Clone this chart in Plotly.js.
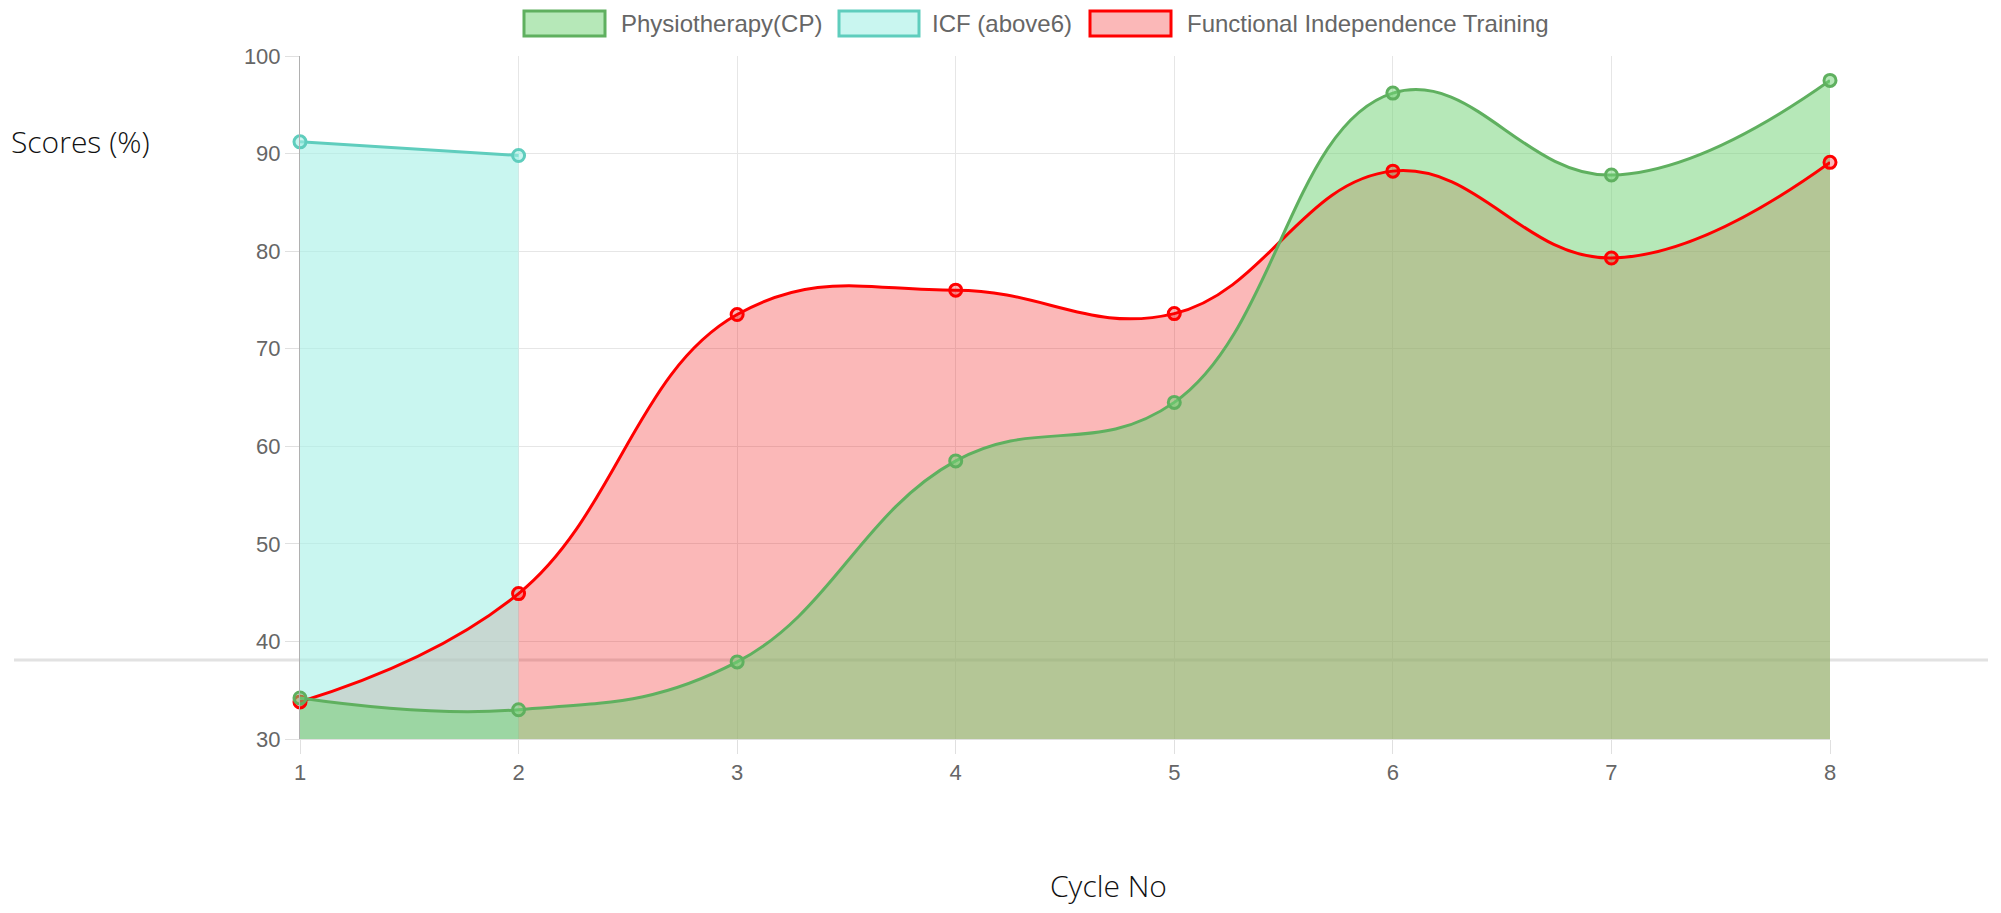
<!DOCTYPE html>
<html>
<head>
<meta charset="utf-8">
<script src="https://cdn.plot.ly/plotly-3.0.1.min.js"></script>
<style>
  html, body { margin: 0; padding: 0; background: #ffffff; }
  #chart { width: 2001px; height: 913px; }
</style>
</head>
<body>
<div id="chart"></div>
<script>
// ---- data ----
const cycles = [1, 2, 3, 4, 5, 6, 7, 8];
const physio = [34.2, 33.0, 37.9, 58.5, 64.5, 96.2, 87.8, 97.5];
const icf = [91.2, 89.8, null, null, null, null, null, null];
const fit = [33.8, 44.9, 73.5, 76.0, 73.6, 88.2, 79.3, 89.1];
const seriesNames = ['Physiotherapy(CP)', 'ICF (above6)', 'Functional Independence Training'];
const xTitle = 'Cycle No';
const yTitle = 'Scores (%)';

// ---- styles ----
const W = 2001, H = 913;
const M = { l: 300, r: 171, t: 56, b: 174 };
const plotW = W - M.l - M.r, plotH = H - M.t - M.b;
const px = v => (v - M.l) / plotW;        // pixel x -> paper x
const py = v => (H - M.b - v) / plotH;    // pixel y -> paper y

const style = {
  physio: { line: '#5fb05f', fill: 'rgba(117,211,121,0.53)' },
  icf:    { line: '#5fcdbd', fill: 'rgba(162,240,229,0.58)' },
  fit:    { line: '#ff0000', fill: 'rgba(240,0,0,0.28)' }
};
const SMOOTH = 1.2;

function fillTrace(y, name, st) {
  return {
    x: cycles, y: y, name: name, type: 'scatter', mode: 'none',
    fill: 'tozeroy', fillcolor: st.fill,
    line: { color: st.line, width: 0, shape: 'spline', smoothing: SMOOTH },
    showlegend: false, hoverinfo: 'skip'
  };
}
function lineTrace(y, name, st) {
  return {
    x: cycles, y: y, name: name, type: 'scatter', mode: 'lines+markers',
    line: { color: st.line, width: 3, shape: 'spline', smoothing: SMOOTH },
    marker: { size: 12, color: st.fill, line: { color: st.line, width: 3 } },
    cliponaxis: false, showlegend: false, hoverinfo: 'x+y+name'
  };
}

// Chart.js: all fills first (last dataset at the bottom), then lines
const traces = [
  fillTrace(fit, seriesNames[2], style.fit),
  fillTrace(icf, seriesNames[1], style.icf),
  fillTrace(physio, seriesNames[0], style.physio),
  lineTrace(fit, seriesNames[2], style.fit),
  lineTrace(icf, seriesNames[1], style.icf),
  lineTrace(physio, seriesNames[0], style.physio)
];

const tickFont = { family: 'Liberation Sans, Arial, sans-serif', size: 22, color: '#666666' };
const legendFont = { family: 'Liberation Sans, Arial, sans-serif', size: 24, color: '#666666' };
const titleFont = { family: 'Open Sans, sans-serif', size: 30, color: '#111111', weight: 300 };

// custom Chart.js-like legend
const legendItems = [
  { name: seriesNames[0], st: style.physio, bx0: 524, bx1: 605, tx: 619 },
  { name: seriesNames[1], st: style.icf, bx0: 839, bx1: 919, tx: 930 },
  { name: seriesNames[2], st: style.fit, bx0: 1090, bx1: 1171, tx: 1185 }
];

const shapes = [
  { type: 'line', xref: 'paper', yref: 'paper', x0: px(14), x1: px(1988), y0: py(660), y1: py(660),
    line: { color: '#e2e2e2', width: 3 }, layer: 'below' }
];
const annotations = [
  { text: yTitle, xref: 'paper', yref: 'paper', x: px(9), y: py(142), xanchor: 'left', yanchor: 'middle',
    showarrow: false, font: titleFont },
  { text: xTitle, xref: 'paper', yref: 'paper', x: px(1108), y: py(885), xanchor: 'center', yanchor: 'middle',
    showarrow: false, font: titleFont }
];
legendItems.forEach(it => {
  shapes.push({ type: 'rect', xref: 'paper', yref: 'paper', x0: px(it.bx0), x1: px(it.bx1), y0: py(36), y1: py(11),
    fillcolor: it.st.fill, line: { color: it.st.line, width: 3 } });
  annotations.push({ text: it.name, xref: 'paper', yref: 'paper', x: px(it.tx), y: py(23),
    xanchor: 'left', yanchor: 'middle', showarrow: false, font: legendFont });
});

const layout = {
  width: W, height: H,
  margin: M,
  paper_bgcolor: '#ffffff',
  plot_bgcolor: 'rgba(0,0,0,0)',
  showlegend: false,
  xaxis: {
    range: [1, 8], tickmode: 'array', tickvals: cycles, ticktext: cycles.map(String),
    showgrid: true, gridcolor: '#e6e6e6', gridwidth: 1,
    ticks: 'outside', ticklen: 14, tickcolor: '#e0e0e0', tickwidth: 1,
    showline: true, linecolor: '#e0e0e0', linewidth: 1,
    zeroline: false, tickfont: tickFont, fixedrange: true
  },
  yaxis: {
    range: [30, 100], dtick: 10, tick0: 30,
    showgrid: true, gridcolor: '#e6e6e6', gridwidth: 1,
    ticks: 'outside', ticklen: 14, tickcolor: '#e0e0e0', tickwidth: 1,
    showline: true, linecolor: '#b0b0b0', linewidth: 1,
    zeroline: false, tickfont: tickFont, fixedrange: true
  },
  shapes: shapes,
  annotations: annotations
};

Plotly.newPlot('chart', traces, layout, { displayModeBar: false });
</script>
</body>
</html>
